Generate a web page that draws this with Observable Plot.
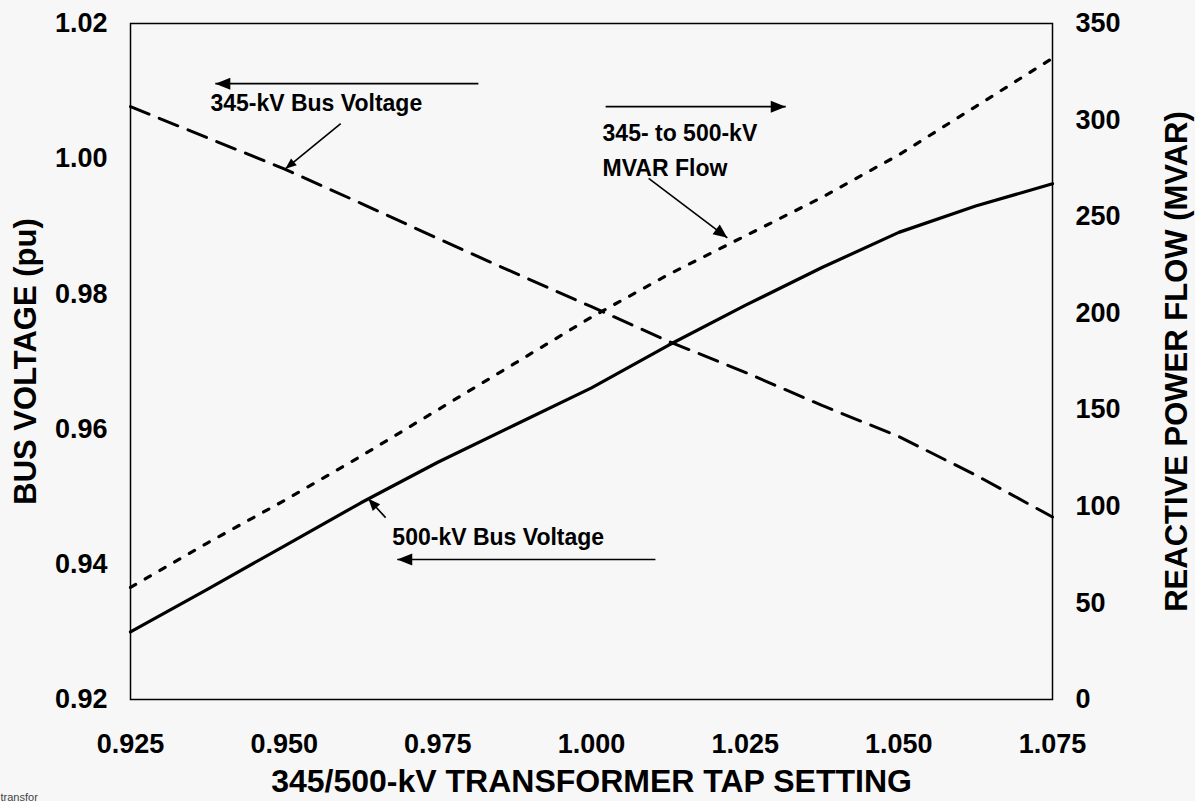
<!DOCTYPE html>
<html><head><meta charset="utf-8">
<script src="https://cdn.jsdelivr.net/npm/d3@7"></script>
<script src="https://cdn.jsdelivr.net/npm/@observablehq/plot@0.6"></script>
<style>
html,body{margin:0;padding:0;background:#f7f7f7;}
</style></head><body><div id="chart"></div>
<script>
// ---- data ----
const tapSetting = [0.925, 0.9375, 0.95, 0.9625, 0.975, 0.9875, 1.0, 1.0125, 1.025, 1.0375, 1.05, 1.0625, 1.075];
const bus345kV   = [1.0077, 1.0031, 0.9985, 0.9934, 0.9882, 0.9831, 0.9781, 0.9730, 0.9684, 0.9635, 0.9589, 0.9532, 0.9470];
const bus500kV   = [0.9300, 0.9363, 0.9427, 0.9491, 0.9551, 0.9606, 0.9661, 0.9724, 0.9783, 0.9839, 0.9891, 0.9930, 0.9963];
const mvarFlow   = [58, 81, 103, 126, 150, 174, 198, 220, 240, 260, 282, 307, 332];

const xTicks = [0.925, 0.950, 0.975, 1.000, 1.025, 1.050, 1.075];
const leftTicks = [0.92, 0.94, 0.96, 0.98, 1.00, 1.02];
const rightTicks = [0, 50, 100, 150, 200, 250, 300, 350];

const xTitle = "345/500-kV TRANSFORMER TAP SETTING";
const leftTitle = "BUS VOLTAGE (pu)";
const rightTitle = "REACTIVE POWER FLOW (MVAR)";

// annotation labels (positions in data units: tap, left-axis pu)
const labels = [
  {text: "345-kV Bus Voltage", tap: 0.938, pu: 1.0082},
  {text: "345- to 500-kV", tap: 1.0018, pu: 1.0037},
  {text: "MVAR Flow", tap: 1.0018, pu: 0.9985},
  {text: "500-kV Bus Voltage", tap: 0.9676, pu: 0.9440}
];
// arrows: horizontal direction arrows and pointers to the curves (data units)
const arrows = [
  {x1: 0.9816, y1: 1.0111, x2: 0.9388, y2: 1.0111, head: 15, half: 6},
  {x1: 1.0023, y1: 1.0077, x2: 1.0316, y2: 1.0077, head: 15, half: 6},
  {x1: 1.0104, y1: 0.9407, x2: 0.9684, y2: 0.9407, head: 15, half: 6},
  {x1: 0.9592, y1: 1.0052, x2: 0.9502, y2: 0.9985, head: 11, half: 4.5},
  {x1: 1.0093, y1: 0.9971, x2: 1.0221, y2: 0.9883, head: 14, half: 6},
  {x1: 0.9665, y1: 0.9469, x2: 0.9637, y2: 0.9497, head: 12, half: 5}
];

// ---- build ----
const W = 1195, H = 801, mL = 130, mR = 143, mT = 23, mB = 102;
const xDom = [0.925, 1.075];
const yL = [0.92, 1.02], yR = [0, 350];
const rows = tapSetting.map((t, i) => ({tap: t, v345: bus345kV[i], v500: bus500kV[i], mvar: mvarFlow[i]}));
const toLeft = m => yL[0] + (m - yR[0]) / (yR[1] - yR[0]) * (yL[1] - yL[0]);
const fromLeft = v => yR[0] + (v - yL[0]) / (yL[1] - yL[0]) * (yR[1] - yR[0]);
const pxPerX = (W - mL - mR) / (xDom[1] - xDom[0]);
const pxPerY = (H - mT - mB) / (yL[1] - yL[0]);

// filled arrowhead as a custom symbol, tip at the anchor point
function headSymbol(a) {
  const ang = Math.atan2(-(a.y2 - a.y1) * pxPerY, (a.x2 - a.x1) * pxPerX);
  const c = Math.cos(ang), s = Math.sin(ang);
  const pt = (u, v) => [u * c - v * s, u * s + v * c];
  return {
    draw(ctx) {
      const p1 = pt(-a.head, a.half), p2 = pt(-a.head, -a.half);
      ctx.moveTo(0, 0); ctx.lineTo(p1[0], p1[1]); ctx.lineTo(p2[0], p2[1]); ctx.closePath();
    }
  };
}

const chart = Plot.plot({
  width: W, height: H,
  marginLeft: mL, marginRight: mR, marginTop: mT, marginBottom: mB,
  style: {background: "#f7f7f7", color: "#000", fontFamily: "'Liberation Sans', Arial, sans-serif", fontWeight: "bold"},
  x: {domain: xDom},
  y: {domain: yL},
  marks: [
    Plot.axisX(xTicks, {tickSize: 0, tickPadding: 34, fontSize: 27, tickFormat: d3.format(".3f"), label: null}),
    Plot.axisY(leftTicks, {anchor: "left", tickSize: 0, tickPadding: 23, fontSize: 27, tickFormat: d3.format(".2f"), label: null}),
    Plot.axisY(rightTicks.map(toLeft), {anchor: "right", tickSize: 0, tickPadding: 23, fontSize: 27, tickFormat: v => String(Math.round(fromLeft(v))), label: null}),
    // axis titles
    Plot.axisX([], {anchor: "bottom", tickSize: 0, fontSize: 32, label: xTitle, labelAnchor: "center", labelOffset: 92, labelArrow: "none"}),
    Plot.axisY([], {anchor: "left", tickSize: 0, fontSize: 31, label: leftTitle, labelAnchor: "center", labelOffset: 117, labelArrow: "none"}),
    Plot.axisY([], {anchor: "right", tickSize: 0, fontSize: 31, label: rightTitle, labelAnchor: "center", labelOffset: 134, labelArrow: "none"}),
    Plot.frame({stroke: "#000", strokeWidth: 1.5}),
    Plot.line(rows, {x: "tap", y: "v345", stroke: "#000", strokeWidth: 3, strokeDasharray: "20,11"}),
    Plot.line(rows, {x: "tap", y: "v500", stroke: "#000", strokeWidth: 3.2}),
    Plot.line(rows, {x: "tap", y: d => toLeft(d.mvar), stroke: "#000", strokeWidth: 3.2, strokeDasharray: "6,11"}),
    // arrow shafts
    Plot.link(arrows, {x1: "x1", y1: "y1", x2: "x2", y2: "y2", stroke: "#000", strokeWidth: 1.6}),
    // arrow heads
    ...arrows.map(a => Plot.dot([a], {x: "x2", y: "y2", r: 5, symbol: headSymbol(a), fill: "#000", stroke: "none"})),
    Plot.text(labels, {x: "tap", y: "pu", text: "text", textAnchor: "start", fontSize: 23, fill: "#000"}),
    Plot.text(["transfor"], {frameAnchor: "bottom-left", dx: -130, dy: 101, textAnchor: "start", fontSize: 11, fontWeight: "normal", fill: "#444"})
  ]
});
document.getElementById("chart").appendChild(chart);
</script>
</body></html>
